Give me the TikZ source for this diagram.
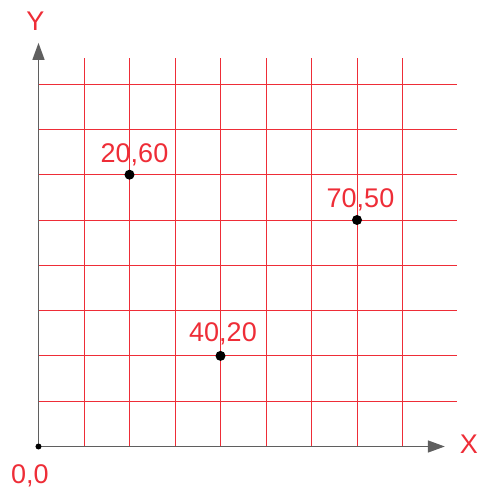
\documentclass[tikz,border=0pt]{standalone}
\usepackage{fontspec}
\setmainfont{Liberation Sans}
\usetikzlibrary{arrows.meta}
\definecolor{gridred}{RGB}{238,45,55}
\definecolor{axisgray}{RGB}{95,95,95}
\tikzset{
  gridline/.style={gridred, line width=0.9pt},
  axisline/.style={axisgray, line width=1.5pt, -{Triangle[length=17pt,width=12pt]}},
  ptlabel/.style={gridred, inner sep=0pt, anchor=base, font=\fontsize{27}{27}\selectfont},
  ptdot/.style={circle, fill=black, inner sep=0pt, minimum size=10pt},
}
\begin{document}
\begin{tikzpicture}[x=4.55pt,y=4.53pt]
\useasboundingbox (-38.5pt,-44.5pt) rectangle (441.5pt,446.5pt);

% Grid
\foreach \i in {1,...,8} {
  \draw[gridline] (\i*10,0) -- (\i*10,85.8);
  \draw[gridline] (0,\i*10) -- (92,\i*10);
}

% Axes
\coordinate (o) at (0,0);
\coordinate (xend) at (89.3,0);
\coordinate (yend) at (0,89.1);
\draw[axisline] (o) -- (xend);
\draw[axisline] (o) -- (yend);
\node[ptdot, minimum size=6pt] (origin) at (o) {};

% Axis names
\node[ptlabel, anchor=center] (xname) at (94.6,0.6) {X};
\node[ptlabel, anchor=center] (yname) at (-0.7,93.9) {Y};
\node[ptlabel, anchor=center] (oname) at (-1.9,-6.4) {0,0};

% Points
\node[ptdot] (p1) at (20,60) {};
\node[ptdot] (p2) at (40,20) {};
\node[ptdot] (p3) at (70,50) {};

\node[ptlabel] (l1) at ([shift={(5pt,12.5pt)}]p1) {20,60};
\node[ptlabel] (l2) at ([shift={(2.5pt,14pt)}]p2) {40,20};
\node[ptlabel] (l3) at ([shift={(3.5pt,12pt)}]p3) {70,50};

\end{tikzpicture}
\end{document}
